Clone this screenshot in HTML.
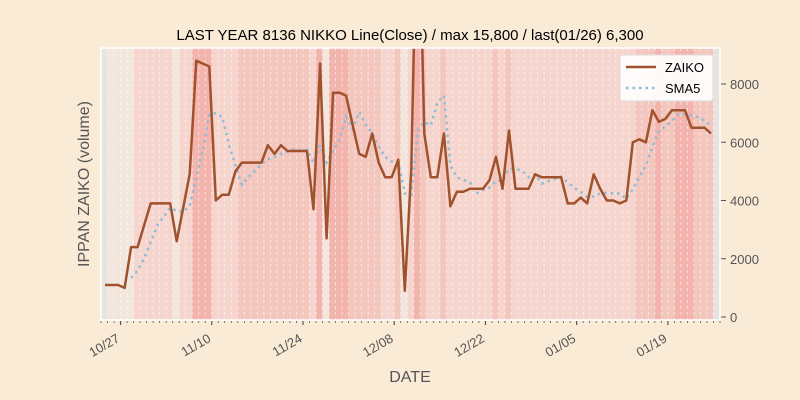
<!DOCTYPE html>
<html><head><meta charset="utf-8">
<style>
html,body{margin:0;padding:0;background:#faebd7;}
svg{display:block;font-family:"Liberation Sans","DejaVu Sans",sans-serif;}
</style></head>
<body>
<svg id="chart" width="800" height="400" xmlns="http://www.w3.org/2000/svg">
<rect x="0" y="0" width="800" height="400" fill="#faebd7"/>
<text x="410" y="40" text-anchor="middle" font-size="15" fill="#000">LAST YEAR 8136 NIKKO Line(Close) / max 15,800 / last(01/26) 6,300</text>
<g id="bands"></g>
<g id="grid"></g>
<g id="series"></g>
<g id="axes"></g>
<text x="0" y="0" transform="translate(89,184) rotate(-90)" text-anchor="middle" font-size="16" fill="#555">IPPAN ZAIKO (volume)</text>
<text x="410" y="382" text-anchor="middle" font-size="16" fill="#555">DATE</text>
<g>
<rect x="620" y="55" width="93" height="46" rx="3" fill="#fff" fill-opacity="0.9" stroke="#ddd"/>
<line x1="626" y1="67" x2="656" y2="67" stroke="#a0522d" stroke-width="2.5"/>
<text x="665" y="72" font-size="13" fill="#000">ZAIKO</text>
<line x1="626" y1="88" x2="656" y2="88" stroke="#92bcd6" stroke-width="2.5" stroke-dasharray="2.5,4"/>
<text x="665" y="93" font-size="13" fill="#000">SMA5</text>
</g>
</svg>
<script>
// ---- data ----
const dayLabels = ["10/27","11/10","11/24","12/08","12/22","01/05","01/19"];
const dayLabelIdx = [3,17,31,45,59,73,87];
const zaiko = [1100,1100,1100,1000,2400,2400,3150,3900,3900,3900,3900,2600,3750,4900,8800,8700,8600,4000,4200,4200,
5000,5300,5300,5300,5300,5900,5600,5900,5700,5700,5700,5700,3700,8700,2700,7700,7700,7600,6600,5600,
5500,6300,5300,4800,4800,5400,900,5100,15800,6300,4800,4800,6300,3800,4300,4300,4400,4400,4400,4700,
5500,4400,6400,4400,4400,4400,4900,4800,4800,4800,4800,3900,3900,4100,3900,4900,4400,4000,4000,3900,
4000,6000,6100,6000,7100,6700,6800,7100,7100,7100,6500,6500,6500,6300];
// background band level per day: 0 grey,1 beige,2 light,3 medium,4 dark
const bandLevels = [0,1,1,1,1,2,2,2,2,2,2,1,2,2,4,4,4,2,2,2,2,3,3,3,3,3,3,3,3,3,3,3,2,4,1,4,4,4,3,3,3,3,3,2,2,3,1,2,4,3,
2,2,3,2,2,2,2,2,2,2,3,2,3,2,2,2,2,2,2,2,2,2,2,2,2,2,2,2,2,2,2,2,3,3,3,4,3,3,4,4,4,3,3,3,0];
const yTicks = [0,2000,4000,6000,8000];
const sma5 = zaiko.map((v,i)=> i<4 ? null : zaiko.slice(i-4,i+1).reduce((a,b)=>a+b,0)/5);

// ---- scales ----
const NS="http://www.w3.org/2000/svg";
const L=101,R=720,T=48,B=320,DW=(R-L)/95;
const xDay = d => L + d*DW;
const xData = i => L + (i+0.62)*DW;
const y = v => 317 - v*0.029125;
const palette = ["#e6e3e0","#f3e6dc","#f5d5cd","#f3c6be","#f2b4ac"];
function mk(tag, attrs, parent){const e=document.createElementNS(NS,tag);for(const k in attrs)e.setAttribute(k,attrs[k]);parent.appendChild(e);return e;}

const bands=document.getElementById('bands');
bandLevels.forEach((lv,k)=>{
  const r=mk('rect',{x:xDay(k),y:T,width:DW+0.3,height:B-T,fill:palette[lv]},bands);
  
  
});
const grid=document.getElementById('grid');
for(let k=1;k<95;k++){
  const l=mk('line',{x1:xDay(k),x2:xDay(k),y1:T,y2:B,stroke:"#fff","stroke-opacity":0.7,"stroke-width":0.8,"stroke-dasharray":"3,3"},grid);
  
  
}
const axes=document.getElementById('axes');
const frame=mk('rect',{x:L,y:T,width:R-L,height:B-T,fill:"none",stroke:"#fff","stroke-width":1.5},axes);


for(let k=0;k<=95;k++){
  const major=dayLabelIdx.includes(k);
  const t=mk('line',{x1:xDay(k),x2:xDay(k),y1:B+1,y2:B+(major?5:3),stroke:"#555","stroke-width":major?1.2:0.8},axes);
  
  
}
dayLabels.forEach((s,j)=>{
  const x=xDay(dayLabelIdx[j]);
  const t=mk('text',{x:x,y:B+21,"text-anchor":"end","font-size":13,fill:"#555",transform:`rotate(-30 ${x} ${B+21})`},axes);
  t.textContent=s;
  
  
});
yTicks.forEach(v=>{
  const tk=mk('line',{x1:R+1,x2:R+6,y1:y(v),y2:y(v),stroke:"#555","stroke-width":1},axes);
  
  
  const t=mk('text',{x:R+10,y:y(v)+5,"font-size":13,fill:"#555"},axes);
  t.textContent=String(v);
  
  
});

const series=document.getElementById('series');
const clip=mk('clipPath',{id:'pc'},series);
mk('rect',{x:L,y:T,width:R-L,height:B-T},clip);
const sp=sma5.map((v,i)=>v==null?null:`${xData(i).toFixed(1)},${y(v).toFixed(1)}`).filter(Boolean).join(' ');
const smaLine=mk('polyline',{points:sp,fill:"none",stroke:"#92bcd6","stroke-width":2.5,"stroke-dasharray":"2.5,4","clip-path":"url(#pc)"},series);


const zp=zaiko.map((v,i)=>`${xData(i).toFixed(1)},${y(v).toFixed(1)}`).join(' ');
const zLine=mk('polyline',{points:zp,fill:"none",stroke:"#a0522d","stroke-width":2.5,"stroke-linejoin":"round","clip-path":"url(#pc)"},series);


</script>
</body></html>
